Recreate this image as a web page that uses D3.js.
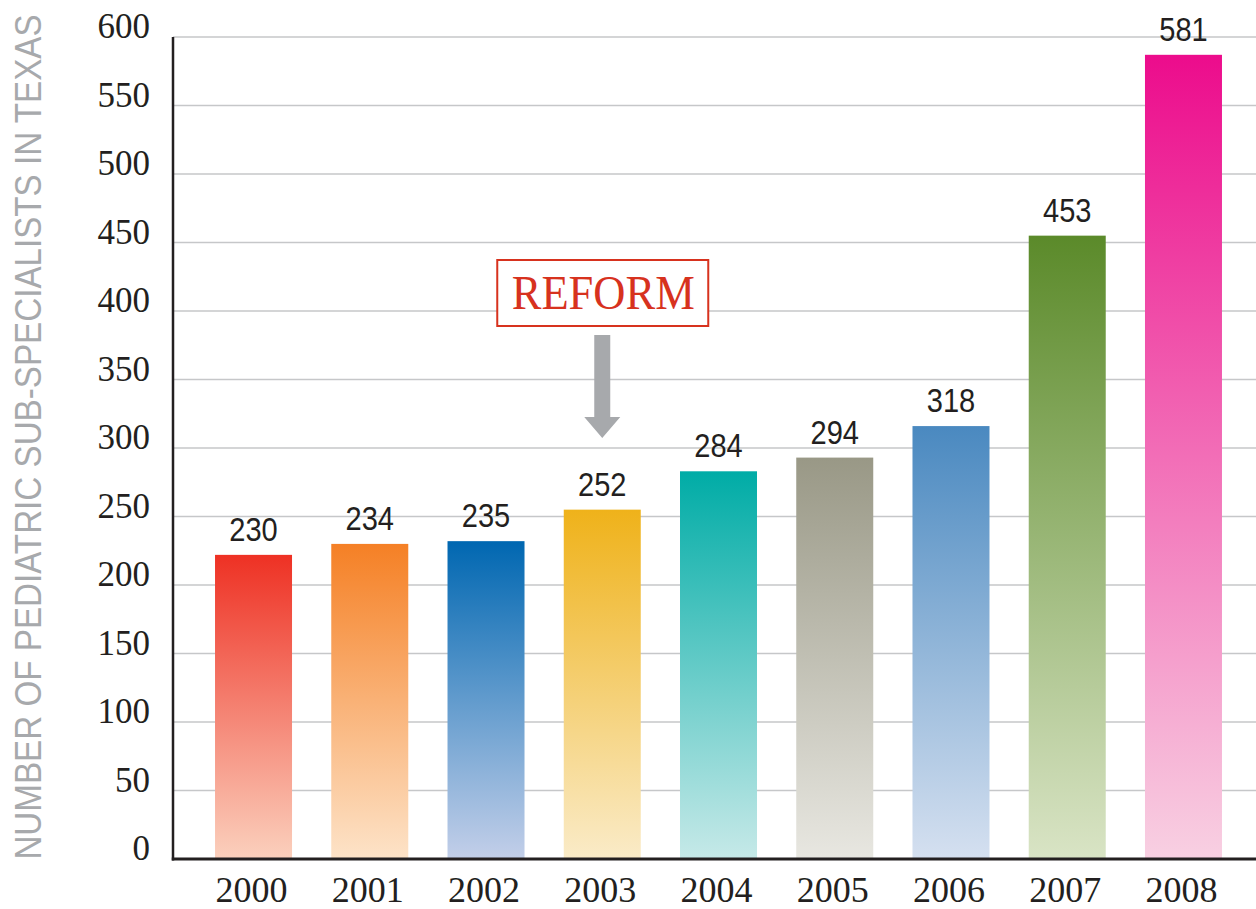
<!DOCTYPE html>
<html>
<head>
<meta charset="utf-8">
<script src="https://cdn.jsdelivr.net/npm/d3@7"></script>
<style>
  html, body { margin: 0; padding: 0; background: #ffffff; }
  svg { display: block; }
</style>
</head>
<body>
<svg id="chart" width="1256" height="909"></svg>
<script>
// ---- data ----
const years = ["2000", "2001", "2002", "2003", "2004", "2005", "2006", "2007", "2008"];
// bar heights as drawn in the picture (axis units)
const barValues = [222, 230, 232, 255, 283, 293, 316, 455, 587];
// value labels as printed above the bars
const valueLabels = ["230", "234", "235", "252", "284", "294", "318", "453", "581"];
const topColors = ["#ee3124", "#f58025", "#0067b1", "#efb21a", "#00aca6", "#999886", "#4a89c0", "#5b8a2a", "#ec0c8c"];
const bottomColors = ["#fbd0bd", "#fde3c8", "#c3cfe9", "#faebc8", "#c6e9e8", "#e8e7e1", "#d5e0f0", "#d9e4c5", "#f8d0e2"];
const yTicks = [0, 50, 100, 150, 200, 250, 300, 350, 400, 450, 500, 550, 600];
const yTitle = "NUMBER OF PEDIATRIC SUB-SPECIALISTS IN TEXAS";
const annotationYear = "2003";
const annotationText = "REFORM";

// ---- layout ----
const svg = d3.select("#chart");
const W = 1256;
const axisX = 173;
const y = d3.scaleLinear().domain([0, 600]).range([859, 37]);
const pInner = 0.3376;
const x = d3.scaleBand().domain(years).range([195.4, 1241.6]).paddingInner(pInner).paddingOuter(pInner / 2);

const defs = svg.append("defs");
years.forEach((yr, i) => {
  const g = defs.append("linearGradient")
    .attr("id", "grad" + i)
    .attr("x1", 0).attr("y1", 0).attr("x2", 0).attr("y2", 1);
  g.append("stop").attr("offset", "0%").attr("stop-color", topColors[i]);
  g.append("stop").attr("offset", "100%").attr("stop-color", bottomColors[i]);
});

// gridlines
svg.append("g")
  .selectAll("line")
  .data(yTicks.filter(d => d > 0))
  .join("line")
  .attr("x1", axisX).attr("x2", W)
  .attr("y1", d => y(d)).attr("y2", d => y(d))
  .attr("stroke", "#c6c7c9")
  .attr("stroke-width", 1.5);

// y tick labels
svg.append("g")
  .selectAll("text")
  .data(yTicks)
  .join("text")
  .attr("x", 150)
  .attr("y", d => y(d) + 1)
  .attr("text-anchor", "end")
  .attr("font-family", "'Liberation Serif', 'Times New Roman', serif")
  .attr("font-size", 35)
  .attr("fill", "#231f20")
  .text(d => d);

// bars
svg.append("g")
  .selectAll("rect")
  .data(years)
  .join("rect")
  .attr("x", d => x(d))
  .attr("width", x.bandwidth())
  .attr("y", (d, i) => y(barValues[i]))
  .attr("height", (d, i) => y(0) - y(barValues[i]))
  .attr("fill", (d, i) => `url(#grad${i})`);

// value labels
svg.append("g")
  .selectAll("text")
  .data(years)
  .join("text")
  .attr("transform", (d, i) => `translate(${x(d) + x.bandwidth() / 2},${y(barValues[i]) - 14}) scale(0.88,1)`)
  .attr("text-anchor", "middle")
  .attr("font-family", "'Liberation Sans', Arial, sans-serif")
  .attr("font-size", 33)
  .attr("fill", "#231f20")
  .text((d, i) => valueLabels[i]);

// x labels
svg.append("g")
  .selectAll("text")
  .data(years)
  .join("text")
  .attr("x", d => x(d) + x.bandwidth() / 2 - 2)
  .attr("y", 902)
  .attr("text-anchor", "middle")
  .attr("font-family", "'Liberation Serif', 'Times New Roman', serif")
  .attr("font-size", 36)
  .attr("fill", "#231f20")
  .text(d => d);

// axes lines
svg.append("line")
  .attr("x1", axisX).attr("x2", axisX)
  .attr("y1", y(600)).attr("y2", y(0) + 1.5)
  .attr("stroke", "#231f20").attr("stroke-width", 2.5);
svg.append("line")
  .attr("x1", axisX - 1.25).attr("x2", W)
  .attr("y1", y(0)).attr("y2", y(0))
  .attr("stroke", "#231f20").attr("stroke-width", 3);

// y title
svg.append("text")
  .attr("transform", `translate(41,437) rotate(-90) scale(1,1.12)`)
  .attr("text-anchor", "middle")
  .attr("font-family", "'Liberation Sans', Arial, sans-serif")
  .attr("font-size", 33.2)
  .attr("fill", "#a7a9ac")
  .text(yTitle);

// annotation
const cx = x(annotationYear) + x.bandwidth() / 2;
const ann = svg.append("g");
ann.append("rect")
  .attr("x", cx - 105).attr("y", 260)
  .attr("width", 211).attr("height", 66)
  .attr("fill", "#ffffff")
  .attr("stroke", "#d7321e").attr("stroke-width", 2);
ann.append("text")
  .attr("x", cx + 1).attr("y", 309)
  .attr("text-anchor", "middle")
  .attr("font-family", "'Liberation Serif', 'Times New Roman', serif")
  .attr("font-size", 48)
  .attr("textLength", 183)
  .attr("lengthAdjust", "spacingAndGlyphs")
  .attr("fill", "#d7321e")
  .text(annotationText);
ann.append("path")
  .attr("d", `M${cx - 8},335 L${cx + 8},335 L${cx + 8},417 L${cx + 18},417 L${cx},438 L${cx - 18},417 L${cx - 8},417 Z`)
  .attr("fill", "#a7a9ac");
</script>
</body>
</html>
